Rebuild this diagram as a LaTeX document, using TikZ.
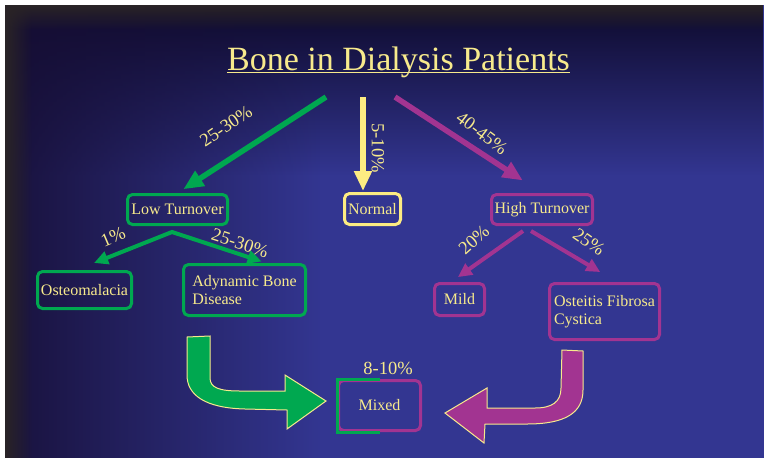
\documentclass[tikz,border=0pt]{standalone}
\usepackage{fontspec}
\setmainfont{Liberation Serif}
\usetikzlibrary{arrows.meta,fadings,calc}
\definecolor{bgblue}{RGB}{51,54,145}
\definecolor{navy}{RGB}{14,10,44}
\definecolor{navyp}{RGB}{22,14,52}
\definecolor{framegrey}{RGB}{42,36,38}
\definecolor{ggreen}{RGB}{0,168,80}
\definecolor{gpurple}{RGB}{162,52,145}
\definecolor{gyellow}{RGB}{253,236,130}
\definecolor{txt}{RGB}{247,234,140}
\tikzfading[name=fadeR, left color=transparent!10, middle color=transparent!72, right color=transparent!100]
\tikzfading[name=fadeD, top color=transparent!0, middle color=transparent!60, bottom color=transparent!100]
\tikzfading[name=edgeR, left color=transparent!0, middle color=transparent!15, right color=transparent!100]
\tikzfading[name=edgeD, top color=transparent!0, middle color=transparent!15, bottom color=transparent!100]
\begin{document}
\begin{tikzpicture}[x=1pt,y=-1pt,
  box/.style={draw, line width=3pt, rounded corners=5pt, text=txt,
    font=\fontsize{16}{18}\selectfont, inner sep=2pt, align=left},
  pct/.style={text=txt, font=\fontsize{18.5}{21}\selectfont, inner sep=0pt},
  mainarrow/.style={line width=5.5pt, -{Triangle[length=20pt,width=17pt]}},
  subarrow/.style={line width=4pt},
  blockarrow/.style={draw=txt, line width=1pt, line join=miter}]
\useasboundingbox (0,0) rectangle (764,459);
% background
\fill[white] (0,0) rectangle (764,459);
\fill[bgblue] (5,5) rectangle (764,458);
\fill[navy, path fading=fadeD] (5,5) rectangle (764,175);
\fill[navyp, path fading=fadeR] (5,5) rectangle (320,458);
\fill[framegrey, path fading=edgeR] (5,5) rectangle (32,458);
\fill[framegrey, path fading=edgeD] (5,5) rectangle (764,30);
% title
\node[text=txt, font=\fontsize{34}{38}\selectfont, inner sep=0pt, anchor=base] (title) at (398.5,70) {Bone in Dialysis Patients};
\draw[txt, line width=1.5pt] ([yshift=-2.5pt]title.base west) -- ([yshift=-2.5pt]title.base east);
% nodes
\node[box, draw=ggreen, minimum width=100pt, minimum height=30pt] (low) at (177.5,209.5) {Low Turnover};
\node[box, draw=gyellow, minimum width=56pt, minimum height=31pt] (normal) at (372.5,209) {Normal};
\node[box, draw=gpurple, minimum width=101pt, minimum height=30pt] (high) at (542,209.5) {High Turnover};
\node[box, draw=ggreen, minimum width=94pt, minimum height=37pt] (osteo) at (84.5,290) {Osteomalacia};
\node[box, draw=ggreen, minimum width=122pt, minimum height=51pt] (adyn) at (244.5,290) {Adynamic Bone\\Disease};
\node[box, draw=gpurple, minimum width=50pt, minimum height=32pt] (mild) at (459.5,299.5) {Mild};
\node[box, draw=gpurple, minimum width=110pt, minimum height=56pt] (ofc) at (604.5,311.5) {Osteitis Fibrosa\\Cystica};
\node[box, draw=gpurple, minimum width=82pt, minimum height=50pt] (mixed) at (379.5,405.5) {Mixed};
\draw[ggreen, line width=3pt] (mixed.north) -- (mixed.north west) -- (mixed.south west) -- (mixed.south);
% main arrows
\coordinate (sg) at (326,97);
\coordinate (sy) at (363,97);
\coordinate (sp) at (395,97);
\draw[ggreen, mainarrow, shorten >=7pt] (sg) -- (low.north);
\draw[gyellow, mainarrow, shorten >=1pt] (sy) -- (sy |- normal.north);
\draw[gpurple, mainarrow, shorten >=23pt] (sp) -- (high.north);
% sub arrows
\coordinate (ga) at (172,232);
\draw[ggreen, subarrow, line join=miter, {Triangle[length=14pt,width=13pt]}-{Triangle[length=14pt,width=13pt]}, shorten <=19pt, shorten >=5pt] (osteo.112) -- (ga) -- (adyn.51);
\coordinate (pa1) at (523,231);
\coordinate (pa2) at (531,231);
\draw[gpurple, subarrow, -{Triangle[length=14pt,width=13pt]}, shorten >=8.5pt] (pa1) -- (mild.116);
\draw[gpurple, subarrow, -{Triangle[length=14pt,width=13pt]}, shorten >=19.5pt] (pa2) -- (ofc.67);
% labels
\node[pct, rotate=34] (p1) at (226,126) {25-30\%};
\node[pct, rotate=-90] (p2) at (378,148) {5-10\%};
\node[pct, rotate=-37] (p3) at (482,133) {40-45\%};
\node[pct, rotate=23] (p4) at (113,237) {1\%};
\node[pct, rotate=-18] (p5) at (240,243) {25-30\%};
\node[pct, rotate=42] (p6) at (474,240) {20\%};
\node[pct, rotate=-35] (p7) at (589,242) {25\%};
\node[pct] (p8) at (388,368) {8-10\%};
% block arrows
\draw[blockarrow, fill=ggreen] (187,337) -- (210,336) -- (210,378) .. controls (210,388) and (220,391) .. (240,391) -- (285,391) -- (285,375) -- (326,401) -- (287,429) -- (287,410) -- (245,409) .. controls (205,408) and (187,395) .. (187,375) -- cycle;
\draw[blockarrow, fill=gpurple] (562,350) -- (583,351) -- (583,390) .. controls (583,413) and (565,424) .. (527,424) -- (485,424) -- (484,443) -- (445,413) -- (487,388) -- (487,408) -- (535,408) .. controls (552,408) and (561,402) .. (561,388) -- cycle;
\end{tikzpicture}
\end{document}
